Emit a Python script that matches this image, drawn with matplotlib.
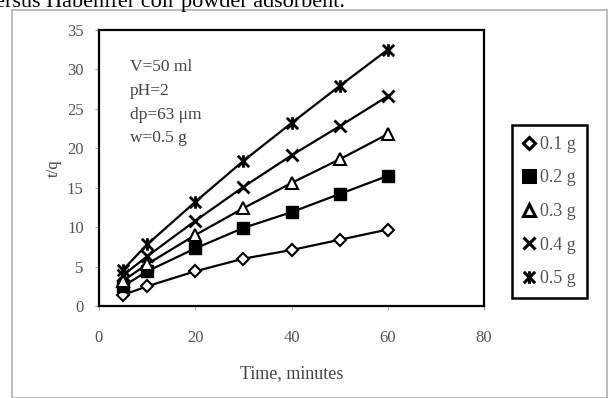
import matplotlib
matplotlib.use("Agg")
import matplotlib.pyplot as plt
from matplotlib.path import Path
from matplotlib.patches import Rectangle

plt.rcParams["font.family"] = ["Liberation Serif", "DejaVu Serif"]

# donnees
temps = [5, 10, 20, 30, 40, 50, 60]
tq_01 = [1.4, 2.5, 4.4, 6.0, 7.1, 8.4, 9.7]
tq_02 = [2.5, 4.4, 7.3, 9.9, 11.9, 14.2, 16.5]
tq_03 = [3.2, 5.3, 9.0, 12.4, 15.6, 18.6, 21.8]
tq_04 = [3.9, 6.3, 10.8, 15.1, 19.1, 22.8, 26.6]
tq_05 = [4.6, 7.8, 13.2, 18.4, 23.2, 27.9, 32.5]
etiquettes = ["0.1 g", "0.2 g", "0.3 g", "0.4 g", "0.5 g"]

# marqueur "etoile" facon Excel : X + trait vertical
etoile = Path([(-1, -1), (1, 1), (-1, 1), (1, -1), (0, -1.1), (0, 1.1)],
              [Path.MOVETO, Path.LINETO, Path.MOVETO, Path.LINETO, Path.MOVETO, Path.LINETO])

styles = [
    dict(marker="D", mfc="white", ms=6, mew=1.5),
    dict(marker="s", mfc="black", ms=9),
    dict(marker="^", mfc="white", ms=9, mew=1.5),
    dict(marker="x", mfc="none", ms=8, mew=2),
    dict(marker=etoile, mfc="none", ms=9, mew=2),
]

fig = plt.figure(figsize=(6.14, 3.98), dpi=100)

# cadre gris exterieur + ligne de texte coupee en haut
fig.patches.append(Rectangle((12 / 614, 0), 595 / 614, 388 / 398, transform=fig.transFigure,
                             fill=False, ec="#b0b0b0", lw=1.2))
fig.text(-16 / 614, 1.0 - 7 / 398, "versus Habenifer coir powder adsorbent.", fontsize=16,
         va="baseline", ha="left")

ax = fig.add_axes([99 / 614, 92 / 398, 385 / 614, 276 / 398])
for serie, lab, st in zip([tq_01, tq_02, tq_03, tq_04, tq_05], etiquettes, styles):
    ax.plot(temps, serie, color="black", lw=1.6, mec="black", label=lab, **st)

ax.set_xlim(0, 80)
ax.set_ylim(0, 35)
ax.set_xticks(range(0, 81, 20))
ax.set_yticks(range(0, 36, 5))
for s in ax.spines.values():
    s.set_linewidth(1.6)
ax.tick_params(colors="#aaaaaa", labelcolor="#555555", labelsize=12, length=3, direction="out")
ax.tick_params(axis="x", pad=14)
ax.tick_params(axis="y", pad=8)
ax.set_xlabel("Time, minutes", fontsize=13, color="#444444", labelpad=14)
ax.set_ylabel("t/q", fontsize=12, color="#444444", labelpad=4)

ax.text(0.08, 0.895, "V=50 ml\npH=2\ndp=63 \u03bcm\nw=0.5 g", transform=ax.transAxes,
        fontsize=12.5, color="#444444", va="top", linespacing=1.65)

leg = fig.legend(loc="upper left", bbox_to_anchor=(512 / 614, 1 - 125 / 398), fontsize=13,
                 handlelength=0.7, handletextpad=0.25, labelspacing=0.92, borderpad=0.6,
                 borderaxespad=0, fancybox=False, edgecolor="black", framealpha=1)
leg.get_frame().set_linewidth(1.8)
for h in leg.legend_handles:
    h.set_linestyle("none")
    h.set_markeredgewidth(2.2)
for t in leg.get_texts():
    t.set_color("#555555")

fig.savefig("out.png", dpi=100)
